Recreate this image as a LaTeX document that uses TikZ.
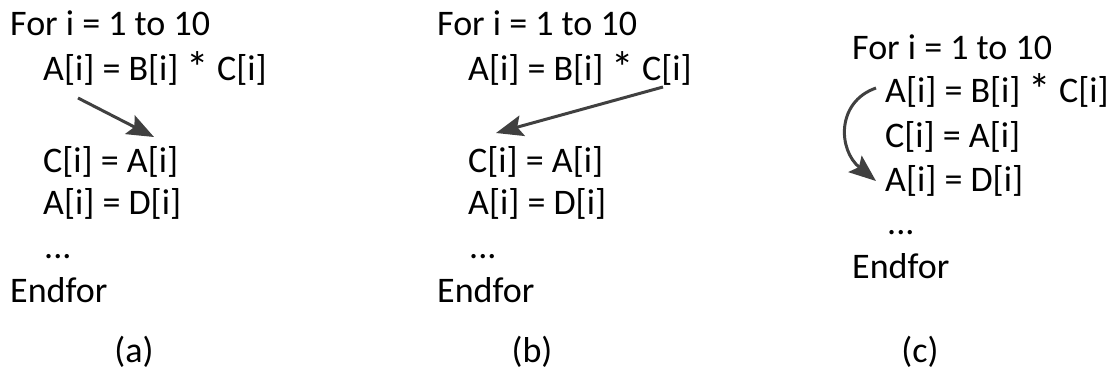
\documentclass[tikz,border=0pt]{standalone}
\usepackage{fontspec}
\usepackage{graphicx}
\setmainfont{Carlito}
\usetikzlibrary{arrows.meta}
\definecolor{arrowgray}{HTML}{404040}
\newcommand{\bigast}{\raisebox{-3pt}{\scalebox{1.25}{*}}}
\begin{document}
\begin{tikzpicture}[x=1pt,y=-1pt,
  code/.style={anchor=base west,inner sep=0pt,font=\fontsize{36}{44}\selectfont},
  sublabel/.style={anchor=base,inner sep=0pt,font=\fontsize{36}{44}\selectfont},
  dep/.style={draw=arrowgray,line width=3pt,-{Stealth[length=27pt,width=21pt,inset=5pt]}}]
\useasboundingbox (0,0) rectangle (1110,375);
% (a)
\node[code] (aFor) at (10,35) {For i = 1 to 10};
\node[code] (aS1) at (43,80) {A[i] = B[i] \bigast{} C[i]};
\node[code] (aS2) at (43,172) {C[i] = A[i]};
\node[code] (aS3) at (43,214) {A[i] = D[i]};
\node[code] (aDots) at (44,258) {...};
\node[code] (aEnd) at (10,302) {Endfor};
\node[sublabel] (aCap) at (134,362) {(a)};
\coordinate (aFrom) at (78,98);
\coordinate (aTo) at (154,137);
\draw[dep] (aFrom) -- (aTo);
% (b)
\node[code] (bFor) at (437,35) {For i = 1 to 10};
\node[code] (bS1) at (468,80) {A[i] = B[i] \bigast{} C[i]};
\node[code] (bS2) at (468,172) {C[i] = A[i]};
\node[code] (bS3) at (468,214) {A[i] = D[i]};
\node[code] (bDots) at (469,258) {...};
\node[code] (bEnd) at (437,302) {Endfor};
\node[sublabel] (bCap) at (532,362) {(b)};
\coordinate (bFrom) at (663,87);
\coordinate (bTo) at (496,133);
\draw[dep] (bFrom) -- (bTo);
% (c)
\node[code] (cFor) at (852,59) {For i = 1 to 10};
\node[code] (cS1) at (885,102) {A[i] = B[i] \bigast{} C[i]};
\node[code] (cS2) at (885,147) {C[i] = A[i]};
\node[code] (cS3) at (885,191) {A[i] = D[i]};
\node[code] (cDots) at (887,234) {...};
\node[code] (cEnd) at (852,278) {Endfor};
\node[sublabel] (cCap) at (920,362) {(c)};
\coordinate (cFrom) at (876,88);
\coordinate (cTo) at (876,181);
\draw[dep] (cFrom) .. controls (836,102) and (838,150) .. (cTo);
\end{tikzpicture}
\end{document}
